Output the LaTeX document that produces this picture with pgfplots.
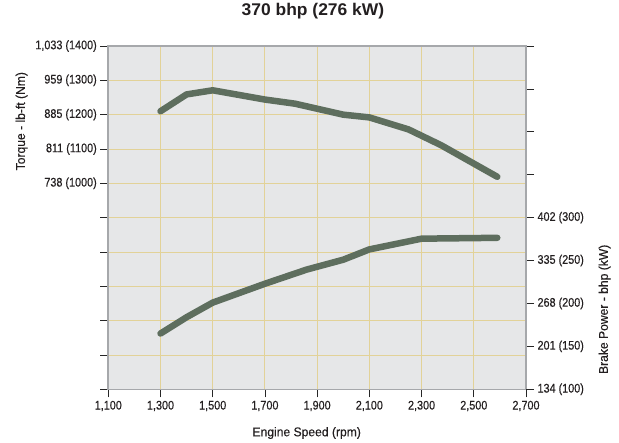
\documentclass[border=0pt]{standalone}
\usepackage{fontspec}
\setmainfont{Liberation Sans}[FakeStretch=0.87, FakeBold=0.4]
\newfontfamily\labelfont{Liberation Sans}[FakeStretch=0.95, FakeBold=0.4]
\newfontfamily\titlefont{Liberation Sans}[FakeStretch=1.03]
\usepackage{pgfplots}
\pgfplotsset{compat=1.18}
\definecolor{bggray}{RGB}{230,231,232}
\definecolor{gridtan}{RGB}{226,210,152}
\definecolor{axisgray}{RGB}{166,168,171}
\definecolor{linegreen}{RGB}{94,110,94}
\definecolor{textblack}{RGB}{35,31,32}
\pgfplotstableread{
rpm nm
1300 1210
1400 1259
1500 1271
1700 1244
1815 1232
2000 1200
2100 1192
2250 1157
2375 1111
2590 1019
}\torque
\pgfplotstableread{
rpm kw
1300 165
1400 184
1500 201
1700 223
1860 239.5
2000 251
2100 263
2300 275.5
2590 276.5
}\power
\begin{document}
\begin{tikzpicture}
\useasboundingbox (-108.3bp,-53.7bp) rectangle (510.7bp,389.3bp);
\pgfplotsset{
  common/.style={
    at={(0,0)}, anchor=south west,
    scale only axis, width=417.7bp, height=343.3bp,
    xmin=1100, xmax=2700,
    tick align=outside, major tick length=8bp,
    tick style={color=black!85, line width=0.8bp},
    axis line style={color=axisgray, line width=1.6bp},
    tick label style={font=\fontsize{12.5}{14}\selectfont, text=textblack},
    label style={font=\labelfont\fontsize{12.8}{14}\selectfont, text=textblack},
  }
}
\begin{axis}[
  common,
  ymin=400, ymax=1400,
  axis background/.style={fill=bggray},
  xtick={1100,1300,...,2700},
  xticklabels={{1,100},{1,300},{1,500},{1,700},{1,900},{2,100},{2,300},{2,500},{2,700}},
  ytick={400,500,...,1400},
  yticklabels={{},{},{},{},{},{},{738 (1000)},{811 (1100)},{885 (1200)},{959 (1300)},{1,033 (1400)}},
  xtick pos=bottom, ytick pos=left,
  grid=major,
  major grid style={color=gridtan, line width=0.9bp},
  xlabel={Engine Speed (rpm)},
  xlabel style={at={(axis description cs:0.475,0)}, anchor=base, yshift=-47bp},
  ylabel={Torque - lb-ft (Nm)},
  ylabel style={at={(axis description cs:-0.1995,0.781)}, anchor=base},
  title={370 bhp (276 kW)},
  title style={at={(axis description cs:0.49,1)}, anchor=base, yshift=25bp, font=\titlefont\bfseries\fontsize{17}{19}\selectfont, text=textblack},
]
\addplot[linegreen, line width=6.5bp, line cap=round, line join=round] table[x=rpm, y=nm] {\torque};
\end{axis}
\begin{axis}[
  common,
  ymin=100, ymax=500,
  hide x axis,
  axis y line*=right,
  ytick={100,150,...,500},
  yticklabels={{134 (100)},{201 (150)},{268 (200)},{335 (250)},{402 (300)},{},{},{},{}},
  ylabel={Brake Power - bhp (kW)},
  ylabel style={at={(axis description cs:1.196,0.233)}, anchor=base},
]
\addplot[linegreen, line width=6.5bp, line cap=round, line join=round] table[x=rpm, y=kw] {\power};
\end{axis}
\end{tikzpicture}
\end{document}
